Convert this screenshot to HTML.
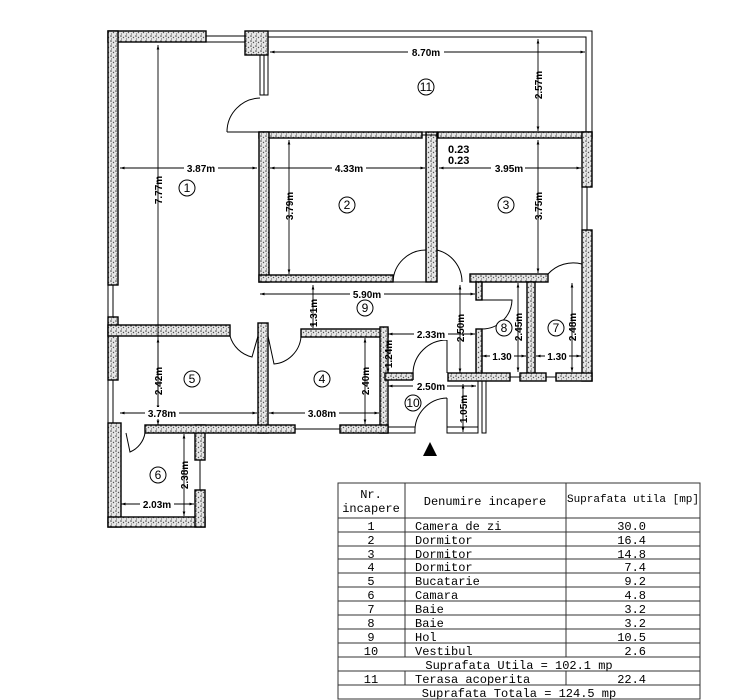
<!DOCTYPE html>
<html><head><meta charset="utf-8"><style>
html,body{margin:0;padding:0;background:#fff;}
svg{display:block;}
text{font-family:"Liberation Sans",sans-serif;}
.t text{font-family:"Liberation Mono",monospace;font-size:12px;fill:#000;}
.t text.s{font-size:11px;}
.d{font-size:10px;font-weight:bold;fill:#000;}
</style></head><body>
<svg width="734" height="700" viewBox="0 0 734 700" xmlns="http://www.w3.org/2000/svg">
<defs>
<pattern id="h" width="5" height="5" patternUnits="userSpaceOnUse">
<rect width="5" height="5" fill="#e6e6e6"/>
<circle cx="1" cy="1" r="0.8" fill="#444"/><circle cx="3.5" cy="2.5" r="0.7" fill="#555"/><circle cx="1.5" cy="4" r="0.6" fill="#666"/>
</pattern>
<marker id="a" viewBox="0 0 10 10" refX="10" refY="5" markerWidth="7" markerHeight="5" orient="auto-start-reverse"><path d="M0 2L10 5L0 8z" fill="#000"/></marker>
</defs>
<g fill="url(#h)" stroke="#000" stroke-width="1.4">
<rect x="108" y="31" width="98" height="11"/>
<rect x="245" y="31" width="23" height="24"/>
<rect x="108" y="31" width="10" height="254"/>
<rect x="108" y="317" width="10" height="63"/>
<rect x="108" y="423" width="13" height="104"/>
<rect x="108" y="517" width="97" height="10"/>
<rect x="195" y="425" width="10" height="35"/>
<rect x="195" y="490" width="10" height="37"/>
<rect x="259" y="132" width="163" height="6"/>
<rect x="438" y="132" width="154" height="6"/>
<rect x="259" y="132" width="10" height="150"/>
<rect x="259" y="275" width="134" height="7"/>
<rect x="426" y="132" width="11" height="150"/>
<rect x="470" y="274" width="78" height="8"/>
<rect x="582" y="132" width="10" height="55"/>
<rect x="582" y="230" width="10" height="151"/>
<rect x="476" y="282" width="6" height="18"/>
<rect x="476" y="329" width="6" height="46"/>
<rect x="527" y="282" width="8" height="93"/>
<rect x="448" y="373" width="62" height="8"/>
<rect x="520" y="373" width="26" height="8"/>
<rect x="556" y="373" width="36" height="8"/>
<rect x="108" y="325" width="122" height="11"/>
<rect x="258" y="323" width="10" height="110"/>
<rect x="301" y="329" width="87" height="8"/>
<rect x="380" y="327" width="8" height="106"/>
<rect x="145" y="425" width="150" height="8"/>
<rect x="340" y="425" width="48" height="8"/>
<rect x="385" y="373" width="28" height="7"/>
</g>
<g fill="none" stroke="#000" stroke-width="1">
<path d="M268 31H592V132M268 37H586V132M268 43V55"/>
<path d="M206 31V42M206 36H245M206 42H245"/>
<path d="M260 55V95H268V55M264 55V95"/>
<path d="M227 132H260M260 98A34 34 0 0 0 227 132"/>
<path d="M422 132H438M422 135H438"/>
<path d="M582 187V230M587 187V230"/>
<path d="M108 285V317M113 285V317M108 380V423M113 380V423M200 460V490"/>
<path d="M393 282H426M426 250A33 33 0 0 0 393 282"/>
<path d="M437 250A33 33 0 0 1 462 282"/>
<path d="M548 274A34 34 0 0 1 582 264"/>
<path d="M482 300H512A30 30 0 0 1 482 329"/>
<path d="M230 336A30 30 0 0 0 252 357L258 336"/>
<path d="M268 336L274 364A30 30 0 0 0 301 337"/>
<path d="M126 433L130 452A25 25 0 0 0 145 433"/>
<path d="M447 340A34 34 0 0 0 413 373M447 340V373"/>
<path d="M447 398A33 33 0 0 0 415 433H388V382M447 398V433H478V381M482 381V433H486V381M388 427H415M447 427H478"/>
<path d="M295 425V433M295 429H340M383 433H415M510 373V381M520 373V381M546 373V381M556 373V381M510 377H520M546 377H556"/>
</g>
<polygon points="430,442 437,456 423,456" fill="#000"/>
<g stroke="#000" stroke-width="0.9" fill="none" marker-start="url(#a)" marker-end="url(#a)">
<path d="M270 52H585"/><path d="M538 39V131"/>
<path d="M120 168H257"/><path d="M158 45V410"/>
<path d="M270 168H425"/><path d="M439 168H581"/>
<path d="M289 140V274"/><path d="M538 140V273"/>
<path d="M260 294H475"/><path d="M313 285V328"/>
<path d="M388 334H475"/><path d="M460 285V373"/>
<path d="M388 339V373"/>
<path d="M482 356H526"/><path d="M536 356H581"/>
<path d="M518 283V372"/><path d="M572 283V372"/>
<path d="M120 413H257"/><path d="M158 338V425"/>
<path d="M269 413H379"/><path d="M365 338V424"/>
<path d="M388 386H476"/><path d="M463 384V432"/>
<path d="M121 504H194"/><path d="M184 434V516"/>
</g>
<g class="d" text-anchor="middle">
<rect x="408" y="46" width="36" height="12" fill="#fff"/><text x="426" y="56">8.70m</text>
<rect x="184" y="162" width="34" height="12" fill="#fff"/><text x="201" y="172">3.87m</text>
<rect x="332" y="162" width="34" height="12" fill="#fff"/><text x="349" y="172">4.33m</text>
<rect x="491" y="162" width="34" height="12" fill="#fff"/><text x="509" y="172">3.95m</text>
<rect x="350" y="288" width="34" height="12" fill="#fff"/><text x="367" y="298">5.90m</text>
<rect x="414" y="328" width="34" height="12" fill="#fff"/><text x="431" y="338">2.33m</text>
<rect x="145" y="407" width="34" height="12" fill="#fff"/><text x="162" y="417">3.78m</text>
<rect x="305" y="407" width="34" height="12" fill="#fff"/><text x="322" y="417">3.08m</text>
<rect x="413" y="380" width="34" height="12" fill="#fff"/><text x="431" y="390">2.50m</text>
<rect x="140" y="498" width="34" height="12" fill="#fff"/><text x="157" y="508">2.03m</text>
<rect x="490" y="350" width="24" height="12" fill="#fff"/><text x="502" y="360">1.30</text>
<rect x="545" y="350" width="24" height="12" fill="#fff"/><text x="557" y="360">1.30</text>
<text x="448" y="153" text-anchor="start" font-size="11">0.23</text>
<text x="448" y="164" text-anchor="start" font-size="11">0.23</text>
<text transform="translate(542,85) rotate(-90)">2.57m</text>
<text transform="translate(162,190) rotate(-90)">7.77m</text>
<text transform="translate(293,206) rotate(-90)">3.79m</text>
<text transform="translate(542,206) rotate(-90)">3.75m</text>
<text transform="translate(317,313) rotate(-90)">1.31m</text>
<text transform="translate(392,354) rotate(-90)">1.24m</text>
<text transform="translate(464,328) rotate(-90)">2.50m</text>
<text transform="translate(522,327) rotate(-90)">2.45m</text>
<text transform="translate(576,327) rotate(-90)">2.48m</text>
<text transform="translate(162,381) rotate(-90)">2.42m</text>
<text transform="translate(369,381) rotate(-90)">2.40m</text>
<text transform="translate(467,409) rotate(-90)">1.05m</text>
<text transform="translate(188,475) rotate(-90)">2.38m</text>
</g>
<g fill="#fff" stroke="#000" stroke-width="1">
<circle cx="426" cy="87" r="8"/><circle cx="187" cy="188" r="8"/><circle cx="347" cy="205" r="8"/>
<circle cx="506" cy="205" r="8"/><circle cx="365" cy="308" r="8"/><circle cx="504" cy="328" r="8"/>
<circle cx="556" cy="328" r="8"/><circle cx="192" cy="379" r="8"/><circle cx="322" cy="379" r="8"/>
<circle cx="413" cy="403" r="8"/><circle cx="158" cy="475" r="8"/>
</g>
<g font-size="12" text-anchor="middle" fill="#000">
<text x="426" y="91">11</text><text x="187" y="192">1</text><text x="347" y="209">2</text>
<text x="506" y="209">3</text><text x="365" y="312">9</text><text x="504" y="332">8</text>
<text x="556" y="332">7</text><text x="192" y="383">5</text><text x="322" y="383">4</text>
<text x="413" y="407">10</text><text x="158" y="479">6</text>
</g>
<g stroke="#333" stroke-width="1" fill="none">
<rect x="338" y="483" width="362" height="216"/>
<path d="M405 483V657M566 483V657M405 671V685M566 671V685"/>
<path d="M338 518H700M338 532H700M338 546H700M338 559H700M338 573H700M338 587H700M338 601H700M338 615H700M338 629H700M338 643H700M338 657H700M338 671H700M338 685H700"/>
</g>
<g class="t">
<text x="371" y="498" text-anchor="middle">Nr.</text>
<text x="371" y="512" text-anchor="middle">incapere</text>
<text x="485" y="505" text-anchor="middle">Denumire incapere</text>
<text x="633" y="502" text-anchor="middle" class="s">Suprafata utila [mp]</text>
<text x="371" y="530" text-anchor="middle">1</text><text x="371" y="544" text-anchor="middle">2</text><text x="371" y="558" text-anchor="middle">3</text><text x="371" y="571" text-anchor="middle">4</text><text x="371" y="585" text-anchor="middle">5</text><text x="371" y="599" text-anchor="middle">6</text><text x="371" y="613" text-anchor="middle">7</text><text x="371" y="627" text-anchor="middle">8</text><text x="371" y="641" text-anchor="middle">9</text><text x="371" y="655" text-anchor="middle">10</text><text x="371" y="683" text-anchor="middle">11</text>
<text x="519" y="669" text-anchor="middle">Suprafata Utila = 102.1 mp</text>
<text x="519" y="697" text-anchor="middle">Suprafata Totala = 124.5 mp</text>
<text x="415" y="530">Camera de zi</text><text x="415" y="544">Dormitor</text><text x="415" y="558">Dormitor</text><text x="415" y="571">Dormitor</text><text x="415" y="585">Bucatarie</text><text x="415" y="599">Camara</text><text x="415" y="613">Baie</text><text x="415" y="627">Baie</text><text x="415" y="641">Hol</text><text x="415" y="655">Vestibul</text><text x="415" y="683">Terasa acoperita</text>
<text x="646" y="530" text-anchor="end">30.0</text><text x="646" y="544" text-anchor="end">16.4</text><text x="646" y="558" text-anchor="end">14.8</text><text x="646" y="571" text-anchor="end">7.4</text><text x="646" y="585" text-anchor="end">9.2</text><text x="646" y="599" text-anchor="end">4.8</text><text x="646" y="613" text-anchor="end">3.2</text><text x="646" y="627" text-anchor="end">3.2</text><text x="646" y="641" text-anchor="end">10.5</text><text x="646" y="655" text-anchor="end">2.6</text><text x="646" y="683" text-anchor="end">22.4</text>
</g>
</svg>
</body></html>
